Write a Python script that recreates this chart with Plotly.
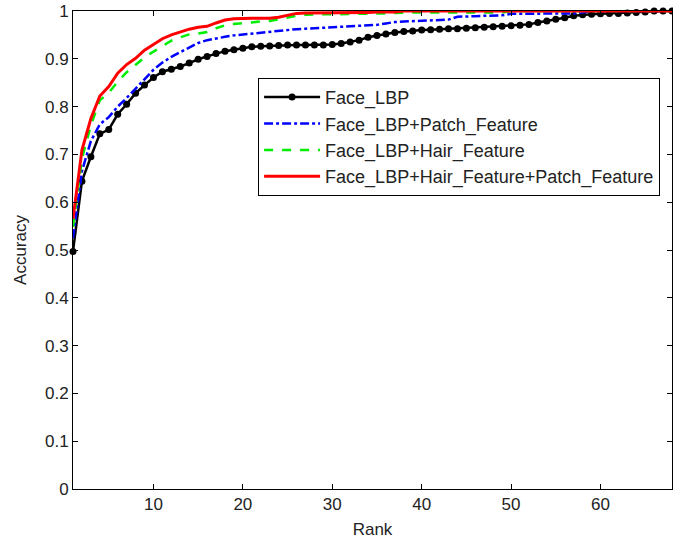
import plotly.graph_objects as go

rank = list(range(1, 69))

face_lbp = [0.497, 0.644, 0.695, 0.743, 0.752, 0.784, 0.805, 0.828, 0.845, 0.861,
            0.873, 0.878, 0.884, 0.891, 0.899, 0.905, 0.911, 0.916, 0.919, 0.922,
            0.925, 0.926, 0.927, 0.928, 0.929, 0.929, 0.929, 0.929, 0.929, 0.930,
            0.932, 0.935, 0.939, 0.945, 0.949, 0.952, 0.955, 0.957, 0.958, 0.960,
            0.961, 0.962, 0.963, 0.963, 0.964, 0.965, 0.966, 0.967, 0.968, 0.969,
            0.970, 0.972, 0.976, 0.979, 0.983, 0.986, 0.990, 0.992, 0.993, 0.994,
            0.995, 0.995, 0.996, 0.997, 0.998, 1.000, 1.000, 1.000]

lbp_patch = [0.525, 0.665, 0.728, 0.763, 0.778, 0.800, 0.818, 0.838, 0.858, 0.877,
             0.892, 0.904, 0.914, 0.924, 0.933, 0.939, 0.943, 0.946, 0.949, 0.951,
             0.953, 0.955, 0.957, 0.959, 0.960, 0.962, 0.963, 0.964, 0.964, 0.965,
             0.966, 0.967, 0.968, 0.969, 0.971, 0.974, 0.977, 0.978, 0.979, 0.980,
             0.980, 0.981, 0.982, 0.988, 0.988, 0.989, 0.990, 0.990, 0.991, 0.994,
             0.994, 0.994, 0.995, 0.995, 0.995, 0.995, 0.995, 0.997, 1.000, 1.000,
             1.000, 1.000, 1.000, 1.000, 1.000, 1.000, 1.000, 1.000]

lbp_hair = [0.548, 0.691, 0.761, 0.813, 0.829, 0.852, 0.872, 0.887, 0.903, 0.915,
            0.927, 0.938, 0.945, 0.951, 0.953, 0.956, 0.964, 0.970, 0.973, 0.975,
            0.976, 0.978, 0.979, 0.983, 0.986, 0.990, 0.992, 0.993, 0.993, 0.993,
            0.994, 0.994, 0.994, 0.995, 0.995, 0.995, 0.996, 0.997, 0.997, 0.997,
            0.997, 0.997, 0.997, 0.997, 0.997, 0.997, 0.997, 0.997, 0.997, 1.000,
            1.000, 1.000, 1.000, 1.000, 1.000, 1.000, 1.000, 1.000, 1.000, 1.000,
            1.000, 1.000, 1.000, 1.000, 1.000, 1.000, 1.000, 1.000]

lbp_hair_patch = [0.565, 0.709, 0.775, 0.822, 0.842, 0.870, 0.888, 0.901, 0.918, 0.930,
                  0.942, 0.950, 0.956, 0.962, 0.966, 0.968, 0.975, 0.981, 0.984, 0.985,
                  0.985, 0.985, 0.985, 0.987, 0.991, 0.995, 0.996, 0.996, 0.996, 0.996,
                  0.997, 0.997, 0.997, 0.997, 0.998, 0.998, 0.998, 1.000, 1.000, 1.000,
                  1.000, 1.000, 1.000, 1.000, 1.000, 1.000, 1.000, 1.000, 1.000, 1.000,
                  1.000, 1.000, 1.000, 1.000, 1.000, 1.000, 1.000, 1.000, 1.000, 1.000,
                  1.000, 1.000, 1.000, 1.000, 1.000, 1.000, 1.000, 1.000]

x_ticks = [10, 20, 30, 40, 50, 60]
y_ticks = [0, 0.1, 0.2, 0.3, 0.4, 0.5, 0.6, 0.7, 0.8, 0.9, 1]
y_tick_text = ["0", "0.1", "0.2", "0.3", "0.4", "0.5", "0.6", "0.7", "0.8", "0.9", "1"]

FONT = "Liberation Sans, Arial, sans-serif"
TXT = "#222"

fig = go.Figure()
fig.add_trace(go.Scatter(x=rank, y=face_lbp, name="Face_LBP", mode="lines+markers",
                         line=dict(color="black", width=2.5),
                         marker=dict(color="black", size=7), cliponaxis=False))
fig.add_trace(go.Scatter(x=rank, y=lbp_patch, name="Face_LBP+Patch_Feature", mode="lines",
                         line=dict(color="#0000ff", width=2.5, dash="dashdot")))
fig.add_trace(go.Scatter(x=rank, y=lbp_hair, name="Face_LBP+Hair_Feature", mode="lines",
                         line=dict(color="#00ee00", width=2.5, dash="dash")))
fig.add_trace(go.Scatter(x=rank, y=lbp_hair_patch, name="Face_LBP+Hair_Feature+Patch_Feature",
                         mode="lines", line=dict(color="#ff0000", width=3)))

axis_common = dict(showline=True, linecolor="black", linewidth=1, mirror="ticks",
                   ticks="inside", ticklen=5, tickcolor="black", showgrid=False,
                   zeroline=False, tickfont=dict(family=FONT, size=17, color=TXT))

fig.update_xaxes(range=[1, 68], tickvals=x_ticks,
                 title=dict(text="Rank", font=dict(family=FONT, size=17, color=TXT), standoff=9),
                 **axis_common)
fig.update_yaxes(range=[0, 1], tickvals=y_ticks, ticktext=y_tick_text,
                 title=dict(text="Accuracy", font=dict(family=FONT, size=17, color=TXT), standoff=14),
                 **axis_common)

fig.update_layout(
    width=673, height=539,
    margin=dict(l=73, r=1, t=11, b=50, autoexpand=False),
    paper_bgcolor="white", plot_bgcolor="white",
    font=dict(family=FONT, size=17, color=TXT),
    showlegend=True,
    legend=dict(x=0.309, y=0.86, xanchor="left", yanchor="top",
                bgcolor="white", bordercolor="black", borderwidth=1,
                font=dict(family=FONT, size=18, color=TXT),
                itemwidth=56, tracegroupgap=0),
)

fig.write_html("out.html", config={"displayModeBar": False},
               post_script="document.body.style.margin='0';document.body.style.overflow='hidden';")
